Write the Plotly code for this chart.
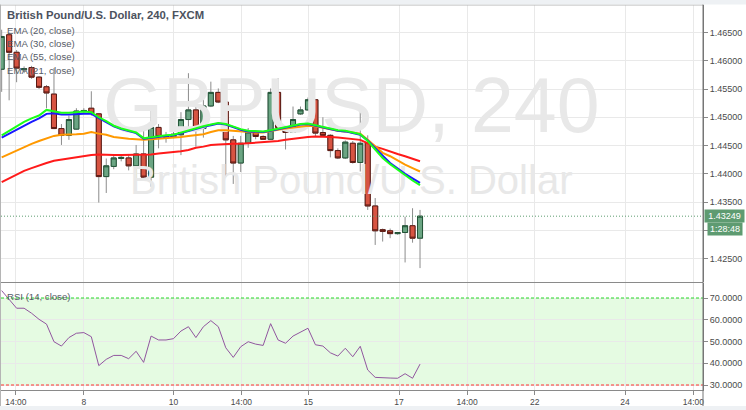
import plotly.graph_objects as go

# ---------------- data ----------------
opens = [1.4585, 1.4646, 1.4615, 1.4584, 1.4588, 1.4571, 1.4554, 1.4541, 1.4480, 1.4468,
         1.4479, 1.4510, 1.4516, 1.4506, 1.4395, 1.4413, 1.4427, 1.4428, 1.4414, 1.4435,
         1.4394, 1.4482, 1.4467, 1.4465, 1.4469, 1.4496, 1.4513, 1.4480, 1.4520, 1.4544,
         1.4527, 1.4460, 1.4419, 1.4454, 1.4474, 1.4466, 1.4461, 1.4544, 1.4482, 1.4473,
         1.4506, 1.4513, 1.4531, 1.4473, 1.4468, 1.4441, 1.4428, 1.4454, 1.4420, 1.4455,
         1.4343, 1.4301, 1.4299, 1.4294, 1.4296, 1.4308, 1.4286]
highs = [1.4655, 1.4650, 1.4619, 1.4590, 1.4591, 1.4573, 1.4557, 1.4587, 1.4488, 1.4503,
         1.4516, 1.4516, 1.4546, 1.4507, 1.4427, 1.4435, 1.4433, 1.4435, 1.4451, 1.4482,
         1.4514, 1.4488, 1.4474, 1.4474, 1.4509, 1.4578, 1.4519, 1.4545, 1.4563, 1.4551,
         1.4549, 1.4467, 1.4467, 1.4481, 1.4477, 1.4468, 1.4551, 1.4569, 1.4483, 1.4519,
         1.4519, 1.4535, 1.4532, 1.4500, 1.4470, 1.4445, 1.4459, 1.4458, 1.4516, 1.4468,
         1.4357, 1.4303, 1.4303, 1.4297, 1.4324, 1.4339, 1.4336]
lows = [1.4545, 1.4530, 1.4562, 1.4578, 1.4568, 1.4550, 1.4516, 1.4479, 1.4451, 1.4460,
        1.4478, 1.4507, 1.4503, 1.4349, 1.4366, 1.4408, 1.4422, 1.4406, 1.4389, 1.4390,
        1.4377, 1.4445, 1.4455, 1.4463, 1.4433, 1.4477, 1.4448, 1.4464, 1.4518, 1.4525,
        1.4395, 1.4382, 1.4403, 1.4446, 1.4461, 1.4460, 1.4460, 1.4480, 1.4443, 1.4472,
        1.4504, 1.4512, 1.4465, 1.4465, 1.4429, 1.4426, 1.4426, 1.4418, 1.4404, 1.4336,
        1.4274, 1.4280, 1.4286, 1.4292, 1.4243, 1.4278, 1.4233]
closes = [1.4643, 1.4615, 1.4587, 1.4586, 1.4571, 1.4553, 1.4543, 1.4480, 1.4468, 1.4496,
          1.4511, 1.4512, 1.4507, 1.4395, 1.4414, 1.4428, 1.4429, 1.4414, 1.4435, 1.4394,
          1.4482, 1.4466, 1.4465, 1.4470, 1.4496, 1.4513, 1.4480, 1.4520, 1.4544, 1.4527,
          1.4460, 1.4419, 1.4454, 1.4474, 1.4466, 1.4461, 1.4544, 1.4482, 1.4473, 1.4496,
          1.4513, 1.4531, 1.4472, 1.4468, 1.4441, 1.4428, 1.4456, 1.4420, 1.4454, 1.4343,
          1.4299, 1.4298, 1.4294, 1.4296, 1.4308, 1.4286, 1.43249]

ema20 = [1.4468, 1.4476, 1.4485, 1.4492, 1.4498, 1.4503, 1.4513, 1.4510, 1.4508, 1.4508,
         1.4509, 1.4510, 1.4509, 1.4500, 1.4493, 1.4485, 1.4480, 1.4477, 1.4473, 1.4463,
         1.4465, 1.4466, 1.4468, 1.4469, 1.4473, 1.4477, 1.4480, 1.4484, 1.4487, 1.4490,
         1.4488, 1.4483, 1.4479, 1.4476, 1.4476, 1.4475, 1.4477, 1.4480, 1.4483, 1.4485,
         1.4488, 1.4489, 1.4486, 1.4483, 1.4480, 1.4477, 1.4476, 1.4473, 1.4470, 1.4458,
         1.4442, 1.4428, 1.4417, 1.4407, 1.4397, 1.4388, 1.4380]
ema30 = [1.4464, 1.4471, 1.4479, 1.4486, 1.4492, 1.4498, 1.4506, 1.4507, 1.4505, 1.4505,
         1.4506, 1.4506, 1.4506, 1.4499, 1.4492, 1.4484, 1.4479, 1.4476, 1.4472, 1.4462,
         1.4464, 1.4465, 1.4467, 1.4468, 1.4472, 1.4476, 1.4479, 1.4483, 1.4486, 1.4489,
         1.4487, 1.4482, 1.4478, 1.4475, 1.4475, 1.4474, 1.4476, 1.4479, 1.4482, 1.4484,
         1.4487, 1.4488, 1.4485, 1.4482, 1.4479, 1.4476, 1.4475, 1.4472, 1.4469, 1.4459,
         1.4445, 1.4432, 1.4419, 1.4409, 1.4400, 1.4392, 1.4384]
ema55 = [1.4429, 1.4435, 1.4442, 1.4447, 1.4453, 1.4458, 1.4463, 1.4467, 1.4469, 1.4469,
         1.4470, 1.4471, 1.4474, 1.4471, 1.4469, 1.4465, 1.4463, 1.4462, 1.4461, 1.4460,
         1.4461, 1.4462, 1.4462, 1.4463, 1.4465, 1.4467, 1.4469, 1.4470, 1.4474, 1.4477,
         1.4477, 1.4476, 1.4475, 1.4473, 1.4473, 1.4473, 1.4476, 1.4478, 1.4480, 1.4482,
         1.4484, 1.4485, 1.4484, 1.4481, 1.4479, 1.4476, 1.4475, 1.4473, 1.4471, 1.4460,
         1.4448, 1.4437, 1.4431, 1.4423, 1.4416, 1.4410, 1.4404]
ema21 = [1.4385, 1.4392, 1.4399, 1.4405, 1.4410, 1.4415, 1.4419, 1.4423, 1.4425, 1.4428,
         1.4430, 1.4431, 1.4433, 1.4434, 1.4433, 1.4433, 1.4433, 1.4433, 1.4433, 1.4433,
         1.4434, 1.4436, 1.4437, 1.4439, 1.4440, 1.4442, 1.4446, 1.4448, 1.4451, 1.4452,
         1.4453, 1.4453, 1.4453, 1.4454, 1.4454, 1.4455, 1.4456, 1.4458, 1.4460, 1.4462,
         1.4463, 1.4465, 1.4466, 1.4466, 1.4465, 1.4464, 1.4463, 1.4462, 1.4460, 1.4454,
         1.4448, 1.4444, 1.4439, 1.4435, 1.4431, 1.4427, 1.4422]

rsi = [73.4, 69.4, 65.3, 65.3, 63.0, 60.2, 58.0, 49.9, 47.9, 51.8,
       53.8, 54.1, 52.2, 38.9, 41.8, 43.6, 43.6, 42.1, 45.5, 40.4,
       52.5, 50.7, 50.7, 51.3, 54.8, 56.8, 51.8, 56.8, 59.6, 56.8,
       47.1, 42.7, 47.6, 49.9, 48.8, 48.2, 58.2, 50.7, 49.2, 52.5,
       54.2, 56.1, 48.5, 47.9, 44.8, 43.3, 46.9, 43.0, 47.8, 36.9,
       33.5, 33.5, 33.2, 33.1, 35.2, 33.1, 39.6]

tick_index = [1.9, 11.0, 23.0, 32.1, 41.05, 53.2, 62.3, 71.35, 83.45, 92.6]
tick_text = ["14:00", "8", "10", "14:00", "15", "17", "14:00", "22", "24", "14:00"]
price_ticks = [1.425, 1.430, 1.435, 1.440, 1.445, 1.450, 1.455, 1.460, 1.465]
price_tick_text = ["1.42500", "", "1.43500", "1.44000", "1.44500", "1.45000", "1.45500", "1.46000", "1.46500"]
rsi_ticks = [30, 40, 50, 60, 70]
last_price = 1.43249
countdown = "1:28:48"
title_text = "British Pound/U.S. Dollar, 240, FXCM"
ema_labels = ["EMA (20, close)", "EMA (30, close)", "EMA (55, close)", "EMA (21, close)"]
rsi_label = "RSI (14, close)"
watermark_big = "GBPUSD, 240"
watermark_small = "British Pound/U.S. Dollar"

# ---------------- layout helpers ----------------
W, H = 746, 410
L, R, T, B = 1, 43, 5, 20
PH = H - T - B


def py(y_px):
    return (H - B - y_px) / PH


def px(x_px):
    return (x_px - L) / (W - L - R)


MAIN_DOM = [py(282), 1.0]
RSI_DOM = [0.0, py(283)]
X_RANGE = [-0.09, 93.88]
Y_RANGE = [1.42084, 1.46987]
RSI_RANGE = [27.7, 76.9]

xs = list(range(len(closes)))
body_hi = [max(o, c) for o, c in zip(opens, closes)]
body_lo = [min(o, c) for o, c in zip(opens, closes)]

SANS = "Liberation Sans, Arial, sans-serif"
UP, DOWN = "#6ba583", "#d75442"

fig = go.Figure()

# watermark (drawn first so it sits behind everything)
xc = (X_RANGE[0] + X_RANGE[1]) / 2 - 0.1
fig.add_trace(go.Scatter(x=[xc], y=[1.4508], mode="text", text=[watermark_big],
                         textfont=dict(family=SANS, size=77, color="#e8e8e8"),
                         hoverinfo="skip", showlegend=False))
fig.add_trace(go.Scatter(x=[xc], y=[1.4381], mode="text", text=[watermark_small],
                         textfont=dict(family=SANS, size=40, color="#e8e8e8"),
                         hoverinfo="skip", showlegend=False))

# candles: wicks (grey) then bodies with dark borders
fig.add_trace(go.Candlestick(x=xs, open=opens, high=highs, low=lows, close=closes,
                             increasing=dict(line=dict(color="#8c8c8c", width=1), fillcolor=UP),
                             decreasing=dict(line=dict(color="#8c8c8c", width=1), fillcolor=DOWN),
                             whiskerwidth=0, showlegend=False, hoverinfo="skip"))
fig.add_trace(go.Candlestick(x=xs, open=opens, high=body_hi, low=body_lo, close=closes,
                             increasing=dict(line=dict(color="#225437", width=1), fillcolor=UP),
                             decreasing=dict(line=dict(color="#5b1a13", width=1), fillcolor=DOWN),
                             whiskerwidth=0, showlegend=False, hoverinfo="skip"))

for vals, col in [(ema21, "#ff1a1a"), (ema55, "#ff9900"), (ema30, "#1a1aff"), (ema20, "#1aff1a")]:
    fig.add_trace(go.Scatter(x=xs, y=vals, mode="lines", line=dict(color=col, width=2),
                             showlegend=False, hoverinfo="skip"))

fig.add_trace(go.Scatter(x=xs, y=rsi, mode="lines", line=dict(color="#91569f", width=1),
                         xaxis="x2", yaxis="y2", showlegend=False, hoverinfo="skip"))

grid = "#e9e9e9"
axfont = dict(family=SANS, size=9, color="#4a4a4a")
fig.update_layout(
    width=W, height=H, margin=dict(l=L, r=R, t=T, b=B, autoexpand=False),
    paper_bgcolor="white", plot_bgcolor="white",
    boxgap=0.1, boxgroupgap=0.25,
    xaxis=dict(domain=[0, 1], anchor="y", range=X_RANGE, tickvals=tick_index, ticktext=tick_text,
               showticklabels=False, showgrid=True, gridcolor=grid, zeroline=False,
               rangeslider=dict(visible=False), fixedrange=True),
    xaxis2=dict(domain=[0, 1], anchor="y2", matches="x", range=X_RANGE, tickvals=tick_index,
                ticktext=tick_text, showgrid=True, gridcolor=grid, zeroline=False,
                ticks="outside", ticklen=4, tickcolor="#8a8a8a",
                tickfont=dict(family=SANS, size=8.5, color="#4a4a4a"),
                showline=True, linecolor="#8a8a8a", linewidth=1),
    yaxis=dict(domain=MAIN_DOM, anchor="x", side="right", range=Y_RANGE, tickvals=price_ticks,
               ticktext=price_tick_text, showgrid=True, gridcolor=grid, zeroline=False,
               ticks="outside", ticklen=4, tickcolor="#8a8a8a", tickfont=axfont,
               showline=True, linecolor="#777", linewidth=1),
    yaxis2=dict(domain=RSI_DOM, anchor="x2", side="right", range=RSI_RANGE, tickvals=rsi_ticks,
                tickformat=".4f", showgrid=True, gridcolor=grid, zeroline=False,
                ticks="outside", ticklen=4, tickcolor="#8a8a8a", tickfont=axfont,
                showline=True, linecolor="#777", linewidth=1),
    showlegend=False,
)

shapes = [
    # RSI band
    dict(type="rect", xref="x2 domain", yref="y2", x0=0, x1=1, y0=30, y1=70,
         fillcolor="#e5fbe2", line=dict(width=0), layer="below"),
    dict(type="line", xref="x2 domain", yref="y2", x0=0, x1=1, y0=70, y1=70,
         line=dict(color="#22dd22", width=1, dash="3px,2px")),
    dict(type="line", xref="x2 domain", yref="y2", x0=0, x1=1, y0=30, y1=30,
         line=dict(color="#ff3333", width=1, dash="3px,2px")),
    # last price dotted line
    dict(type="line", xref="paper", yref="y", x0=0, x1=1, y0=last_price, y1=last_price,
         line=dict(color="#5d9c70", width=1, dash="1px,2px")),
    # pane separator and frame
    dict(type="line", xref="paper", yref="paper", x0=0, x1=1, y0=py(282.5), y1=py(282.5),
         line=dict(color="#8a8a8a", width=1)),
    dict(type="line", xref="paper", yref="paper", x0=0, x1=1, y0=1, y1=1,
         line=dict(color="#b5b5b5", width=1)),
    dict(type="line", xref="paper", yref="paper", x0=px(0.5), x1=px(0.5), y0=py(410), y1=py(0),
         line=dict(color="#b5b5b5", width=1)),
    dict(type="line", xref="paper", yref="paper", x0=1, x1=1, y0=py(406), y1=py(0),
         line=dict(color="#777", width=1)),
    # top toolbar strip
    dict(type="rect", xref="paper", yref="paper", x0=px(0), x1=px(746), y0=py(4.5), y1=py(0),
         fillcolor="#eef1f4", line=dict(width=0)),
    # bottom strip
    dict(type="rect", xref="paper", yref="paper", x0=px(0), x1=px(746), y0=py(410), y1=py(406),
         fillcolor="#eef1f4", line=dict(width=0)),
]
fig.update_layout(shapes=shapes)

ann = []
ann.append(dict(xref="paper", yref="paper", x=px(5), y=py(15), text="<b>%s</b>" % title_text,
                showarrow=False, xanchor="left", yanchor="middle",
                font=dict(family=SANS, size=11.3, color="#4c525e")))
for i, lab in enumerate(ema_labels):
    ann.append(dict(xref="paper", yref="paper", x=px(5), y=py(30 + 13.4 * i), text=lab,
                    showarrow=False, xanchor="left", yanchor="middle",
                    font=dict(family=SANS, size=9.6, color="#555b66")))
ann.append(dict(xref="paper", yref="paper", x=px(5), y=py(296), text=rsi_label,
                showarrow=False, xanchor="left", yanchor="middle",
                font=dict(family=SANS, size=9.6, color="#555b66")))
ann.append(dict(xref="paper", yref="y", x=1, y=last_price, text="%.5f" % last_price,
                showarrow=False, xanchor="left", yanchor="middle", xshift=1,
                bgcolor="#5e9b71", borderpad=1, width=37,
                font=dict(family=SANS, size=9, color="white")))
ann.append(dict(xref="paper", yref="y", x=1, y=last_price, text=countdown, yshift=-13,
                showarrow=False, xanchor="left", yanchor="middle", xshift=4,
                bgcolor="#5e9b71", borderpad=1, width=32,
                font=dict(family=SANS, size=9, color="white")))
fig.update_layout(annotations=ann)

fig.write_html("out.html", config={"displayModeBar": False, "staticPlot": True},
               post_script="document.body.style.margin='0';document.body.style.overflow='hidden';")
